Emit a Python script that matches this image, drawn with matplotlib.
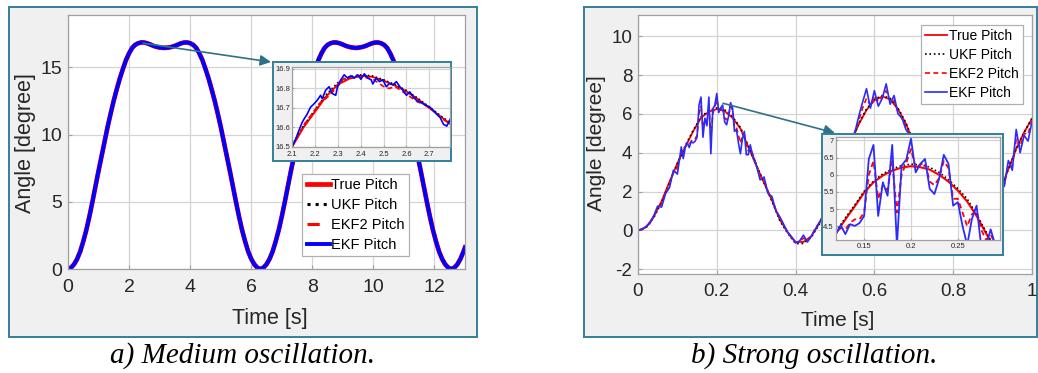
import numpy as np
import matplotlib
matplotlib.use('Agg')
import matplotlib.pyplot as plt

plt.rcParams['font.family'] = ['Liberation Sans', 'DejaVu Sans']
plt.rcParams['axes.unicode_minus'] = False

# ---------------- a) medium oscillation ----------------
t_a = [0.0, 0.1, 0.2, 0.3, 0.4, 0.5, 0.6, 0.7, 0.8, 0.9, 1.0, 1.1, 1.2, 1.3, 1.4, 1.5,
       1.6, 1.7, 1.8, 1.9, 2.0, 2.1, 2.2, 2.3, 2.4, 2.5, 2.6, 2.7, 2.8, 2.9, 3.0, 3.15,
       3.3, 3.4, 3.5, 3.6, 3.7, 3.8, 3.9, 4.0, 4.1, 4.2, 4.3, 4.4, 4.5, 4.6, 4.7, 4.8,
       4.9, 5.0, 5.1, 5.2, 5.3, 5.4, 5.5, 5.6, 5.7, 5.8, 5.9, 6.0, 6.1, 6.2, 6.3,
       6.4, 6.5, 6.6, 6.7, 6.8, 6.9, 7.0, 7.1, 7.2, 7.3, 7.4, 7.5, 7.6, 7.7, 7.8, 7.9,
       8.0, 8.1, 8.2, 8.3, 8.4, 8.5, 8.6, 8.7, 8.8, 8.9, 9.0, 9.1, 9.2, 9.3, 9.42,
       9.55, 9.65, 9.75, 9.85, 9.95, 10.05, 10.15, 10.25, 10.35, 10.45, 10.55, 10.65,
       10.75, 10.85, 10.95, 11.05, 11.15, 11.25, 11.35, 11.45, 11.55, 11.65, 11.75,
       11.85, 11.95, 12.05, 12.15, 12.25, 12.35, 12.45, 12.55, 12.65, 12.75, 12.85,
       12.95, 13.0]
pitch_a = [0.0, 0.1, 0.35, 0.75, 1.3, 2.05, 2.9, 3.9, 5.0, 6.15, 7.3, 8.4, 9.5, 10.6, 11.6, 12.55,
           13.4, 14.2, 14.9, 15.55, 16.05, 16.45, 16.68, 16.8, 16.86, 16.85, 16.79, 16.7, 16.6,
           16.53, 16.48, 16.45,
           16.48, 16.53, 16.6, 16.7, 16.79, 16.85, 16.86, 16.8, 16.68, 16.45, 16.05, 15.55, 14.9,
           14.2, 13.4, 12.55, 11.6, 10.6, 9.5, 8.4, 7.3, 6.15, 5.0, 3.9, 2.9, 2.05, 1.3, 0.75,
           0.35, 0.1, 0.0,
           0.1, 0.35, 0.75, 1.3, 2.05, 2.9, 3.9, 5.0, 6.15, 7.3, 8.4, 9.5, 10.6, 11.6, 12.55,
           13.4, 14.2, 14.9, 15.55, 16.05, 16.45, 16.68, 16.8, 16.86, 16.85, 16.79, 16.7, 16.6,
           16.53, 16.48, 16.45,
           16.48, 16.53, 16.6, 16.7, 16.79, 16.85, 16.86, 16.8, 16.68, 16.45, 16.05, 15.55,
           14.9, 14.2, 13.4, 12.55, 11.6, 10.6, 9.5, 8.4, 7.3, 6.15, 5.0,
           3.9, 2.9, 2.05, 1.3, 0.75, 0.35, 0.1, 0.0, 0.1, 0.35, 0.75,
           1.3, 1.6]

# zoomed window 2.1 .. 2.8 s
t_zoom_a = [2.10, 2.15, 2.20, 2.25, 2.30, 2.35, 2.40, 2.45, 2.50, 2.55, 2.60, 2.65, 2.70, 2.75, 2.80]
true_zoom_a = [16.50, 16.60, 16.68, 16.76, 16.82, 16.85, 16.865, 16.86, 16.84, 16.815, 16.785,
               16.745, 16.70, 16.655, 16.61]
ukf_zoom_a = [16.51, 16.61, 16.69, 16.77, 16.83, 16.86, 16.87, 16.865, 16.845, 16.82, 16.79,
              16.75, 16.705, 16.66, 16.615]
t_ekf2_zoom_a = [2.100, 2.125, 2.150, 2.175, 2.200, 2.225, 2.250, 2.275, 2.300, 2.325, 2.350,
                 2.375, 2.400, 2.425, 2.450, 2.475, 2.500, 2.525, 2.550, 2.575, 2.600, 2.625,
                 2.650, 2.675, 2.700, 2.725, 2.750, 2.775, 2.800]
ekf2_zoom_a = [16.50, 16.55, 16.61, 16.65, 16.69, 16.73, 16.75, 16.78, 16.81, 16.85, 16.855,
               16.86, 16.86, 16.855, 16.85, 16.83, 16.81, 16.80, 16.81, 16.79, 16.77, 16.75,
               16.73, 16.72, 16.70, 16.68, 16.65, 16.63, 16.62]
t_ekf_zoom_a = [2.100, 2.115, 2.129, 2.144, 2.151, 2.166, 2.181, 2.196, 2.210, 2.225, 2.232,
                2.247, 2.262, 2.276, 2.291, 2.299, 2.313, 2.328, 2.343, 2.357, 2.372, 2.387,
                2.401, 2.416, 2.431, 2.446, 2.453, 2.468, 2.482, 2.497, 2.512, 2.526, 2.541,
                2.556, 2.571, 2.585, 2.600, 2.615, 2.629, 2.644, 2.659, 2.674, 2.688, 2.703,
                2.718, 2.732, 2.747, 2.762, 2.776, 2.791]
ekf_zoom_a = [16.502, 16.537, 16.581, 16.625, 16.640, 16.668, 16.704, 16.721, 16.739, 16.765,
              16.747, 16.791, 16.809, 16.774, 16.765, 16.809, 16.844, 16.870, 16.853, 16.865,
              16.853, 16.870, 16.847, 16.875, 16.853, 16.844, 16.823, 16.853, 16.835, 16.844,
              16.809, 16.826, 16.818, 16.835, 16.809, 16.791, 16.765, 16.782, 16.756, 16.739,
              16.730, 16.721, 16.712, 16.704, 16.686, 16.668, 16.651, 16.616, 16.607, 16.642]

# ---------------- b) strong oscillation ----------------
t_b = np.round(np.arange(0, 1.001, 0.02), 3)
true_b = [0.0, 0.15, 0.7, 1.5, 2.5, 3.45, 4.3, 5.1, 5.8, 6.12, 6.25, 6.15, 5.8, 5.25, 4.3,
          3.35, 2.45, 1.55, 0.55, -0.1, -0.6, -0.6, -0.3, 0.35, 1.25, 2.3, 3.4, 4.5, 5.45,
          6.2, 6.7, 6.9, 6.75, 6.25, 5.5, 4.5, 3.45, 2.35, 1.3, 0.4, -0.25, -0.55, -0.55,
          -0.25, 0.35, 1.15, 2.1, 3.15, 4.2, 5.05, 5.75]
ukf_b = [0.0, 0.12, 0.65, 1.45, 2.45, 3.45, 4.35, 5.15, 5.85, 6.18, 6.31, 6.21, 5.86, 5.3,
         4.35, 3.4, 2.45, 1.5, 0.5, -0.15, -0.68, -0.68, -0.35, 0.3, 1.2, 2.3, 3.4, 4.55, 5.5,
         6.25, 6.75, 6.95, 6.8, 6.3, 5.55, 4.55, 3.45, 2.35, 1.25, 0.35, -0.3, -0.62, -0.62,
         -0.3, 0.3, 1.1, 2.1, 3.15, 4.2, 5.05, 5.78]

t_ekf_b = np.round(np.concatenate([np.arange(0, 0.111, 0.01),
                                   np.arange(0.115, 0.2901, 0.005),
                                   np.arange(0.30, 1.001, 0.01)]), 3)
ekf_b = [0.0, 0.05, 0.2, 0.35, 0.75, 1.25, 1.2, 1.9, 2.2, 3.1, 2.9, 4.3,
         3.7, 4.27, 4.53, 4.27, 4.56, 4.51, 4.59, 4.80, 6.46, 6.87, 4.80, 5.78, 5.39, 6.87,
         3.95, 6.27, 6.44, 7.05, 6.07, 6.32, 6.46, 5.59, 5.44, 5.88, 6.58, 6.32, 5.10, 5.20,
         4.51, 3.95, 4.71, 5.10, 3.9, 3.9, 4.41, 3.95,
         3.4, 2.6, 2.75, 1.9, 1.75, 1.0, 0.7, 0.3, -0.1, -0.35,
         -0.65, -0.55, -0.25, -0.6, -0.3, 0.05, 0.4, 0.65, 1.4, 1.6,
         2.5, 2.6, 3.6, 3.8, 4.7, 5.0, 5.85, 6.6, 7.3, 6.3,
         7.2, 6.4, 6.8, 7.55, 6.5, 6.95, 6.0, 5.8, 5.2, 4.9,
         4.3, 3.9, 3.4, 2.7, 2.4, 1.6, 1.4, 0.7, 0.5, 0.0,
         -0.2, -0.5, -0.45, -0.7, -0.4, -0.45, -0.1, 0.1, 0.45, 0.8,
         1.2, 1.6, 2.0, 2.3, 3.6, 3.1, 5.2, 4.0, 4.9, 4.6,
         5.6]
ekf2_b = [0.0, 0.04, 0.17, 0.38, 0.72, 1.15, 1.35, 1.95, 2.35, 3.0, 3.2, 4.05,
          4.0, 4.3, 4.45, 4.4, 4.6, 4.7, 4.7, 4.9, 6.0, 6.4, 5.3, 5.7, 5.55, 6.4, 4.9, 6.0,
          6.35, 6.75, 6.2, 6.3, 6.35, 5.8, 5.7, 5.9, 6.4, 6.2, 5.3, 5.3, 4.9, 4.5, 4.85,
          4.95, 4.4, 4.1, 4.25, 4.0,
          3.4, 2.8, 2.6, 2.0, 1.65, 1.05, 0.65, 0.25, -0.1, -0.4,
          -0.62, -0.58, -0.4, -0.55, -0.3, 0.1, 0.38, 0.7, 1.3, 1.7,
          2.4, 2.75, 3.5, 3.95, 4.6, 5.05, 5.65, 6.3, 6.8, 6.45,
          6.95, 6.65, 6.85, 7.2, 6.65, 6.7, 6.1, 5.75, 5.35, 4.95,
          4.4, 3.95, 3.45, 2.8, 2.4, 1.7, 1.35, 0.8, 0.45, 0.05,
          -0.22, -0.5, -0.5, -0.65, -0.5, -0.45, -0.2, 0.15, 0.4, 0.85,
          1.2, 1.65, 2.05, 2.4, 3.4, 3.3, 4.7, 4.3, 5.0, 4.95,
          5.65]

# finer true / UKF samples for the zoom window 0.12 .. 0.29 s
t_zoom_b = [0.12, 0.13, 0.14, 0.15, 0.16, 0.17, 0.18, 0.19, 0.20, 0.21, 0.22, 0.23, 0.24,
            0.25, 0.26, 0.27, 0.28, 0.29]
true_zoom_b = [4.3, 4.7, 5.08, 5.48, 5.78, 5.98, 6.12, 6.21, 6.25, 6.22, 6.15, 6.0, 5.8,
               5.54, 5.22, 4.8, 4.3, 3.8]
ukf_zoom_b = [4.35, 4.75, 5.12, 5.52, 5.82, 6.03, 6.17, 6.27, 6.31, 6.29, 6.22, 6.07, 5.86,
              5.6, 5.3, 4.85, 4.35, 3.85]

labels = ['True Pitch', 'UKF Pitch', 'EKF2 Pitch', 'EKF Pitch']

teal = '#33809a'
grid_c = '#d4d4d4'
spine_c = '#a0a0a0'
text_c = '#262626'


def style_axes(ax, tick_fs, pad_x, pad_y):
    ax.grid(True, color=grid_c, lw=0.9)
    ax.set_axisbelow(True)
    for s in ax.spines.values():
        s.set_color(spine_c)
        s.set_linewidth(0.9)
    ax.tick_params(axis='both', direction='in', length=3, color=spine_c,
                   labelcolor=text_c, labelsize=tick_fs)
    ax.tick_params(axis='x', pad=pad_x)
    ax.tick_params(axis='y', pad=pad_y)


def frame_box(fig, rect, z):
    fb = fig.add_axes(rect, zorder=z)
    fb.set_facecolor('#f0f0f0')
    fb.set_xticks([])
    fb.set_yticks([])
    for s in fb.spines.values():
        s.set_color(teal)
        s.set_linewidth(1.4)
    return fb


fig = plt.figure(figsize=(10.38, 3.73), dpi=100)

# panel frames
frame_box(fig, [0.0087, 0.0965, 0.4509, 0.8847], -5)
frame_box(fig, [0.5626, 0.0965, 0.4364, 0.8847], -5)

# ---- left panel ----
ax1 = fig.add_axes([0.0655, 0.2788, 0.3825, 0.681])
ax1.set_facecolor('white')
ax1.plot(t_a, pitch_a, color='red', lw=3.4, label=labels[0])
ax1.plot(t_a, pitch_a, color='black', lw=2.2, ls=':', label=labels[1])
ax1.plot(t_a, pitch_a, color='red', lw=2.2, ls=(0, (4, 6)), label=labels[2])
ax1.plot(t_a, pitch_a, color='#0000ff', lw=2.8, label=labels[3])
ax1.set_xlim(0, 13)
ax1.set_ylim(0, 18.9)
ax1.set_xticks([0, 2, 4, 6, 8, 10, 12])
ax1.set_yticks([0, 5, 10, 15])
style_axes(ax1, 14, 7, 4)
ax1.set_xlabel('Time [s]', fontsize=15.5, color=text_c)
ax1.set_ylabel('Angle [degree]', fontsize=15.5, color=text_c)
ax1.xaxis.set_label_coords(0.509, -0.193)
ax1.xaxis.label.set_va('center')
ax1.yaxis.set_label_coords(-0.108, 0.496)
ax1.yaxis.label.set_va('center')
leg1 = ax1.legend(loc='upper left', bbox_to_anchor=(0.59, 0.374), fontsize=10.5,
                  frameon=True, fancybox=False, framealpha=1, edgecolor='#b0b0b0',
                  handlelength=1.6, handletextpad=0.1, labelspacing=0.4,
                  borderpad=0.3, borderaxespad=0)
leg1.get_frame().set_linewidth(0.9)
ax1.annotate('', xy=(0.2611, 0.8338), xycoords='figure fraction',
             xytext=(2.46, 16.8), textcoords='data',
             arrowprops=dict(arrowstyle='-|>', color='#2e7288', lw=1.2,
                             mutation_scale=16, shrinkA=0, shrinkB=0))

frame_box(fig, [0.263, 0.5684, 0.1715, 0.2654], 2)
ins1 = fig.add_axes([0.2813, 0.6059, 0.1522, 0.2145], zorder=3)
ins1.set_facecolor('white')
ins1.plot(t_zoom_a, true_zoom_a, color='red', lw=1.4)
ins1.plot(t_zoom_a, ukf_zoom_a, color='black', lw=1.1, ls=':')
ins1.plot(t_ekf2_zoom_a, ekf2_zoom_a, color='red', lw=1.2, ls=(0, (3, 2)))
ins1.plot(t_ekf_zoom_a, ekf_zoom_a, color='#0000ff', lw=1.2)
ins1.set_xlim(2.1, 2.79)
ins1.set_ylim(16.5, 16.91)
ins1.set_xticks([2.1, 2.2, 2.3, 2.4, 2.5, 2.6, 2.7])
ins1.set_yticks([16.5, 16.6, 16.7, 16.8, 16.9])
style_axes(ins1, 5.5, 3, 1.5)
ins1.tick_params(length=1.5)

# ---- right panel ----
ax2 = fig.add_axes([0.6146, 0.2654, 0.3796, 0.6944])
ax2.set_facecolor('white')
ax2.plot(t_b, true_b, color='red', lw=1.3, label=labels[0])
ax2.plot(t_b, ukf_b, color='black', lw=1.2, ls=':', label=labels[1])
ax2.plot(t_ekf_b, ekf2_b, color='red', lw=1.2, ls=(0, (3, 2)), label=labels[2])
ax2.plot(t_ekf_b, ekf_b, color='#2b2bff', lw=1.2, label=labels[3])
ax2.set_xlim(0, 1)
ax2.set_ylim(-2.25, 11.1)
ax2.set_xticks([0, 0.2, 0.4, 0.6, 0.8, 1.0])
ax2.set_xticklabels(['0', '0.2', '0.4', '0.6', '0.8', '1'])
ax2.set_yticks([-2, 0, 2, 4, 6, 8, 10])
style_axes(ax2, 13.5, 6.5, 4)
ax2.set_xlabel('Time [s]', fontsize=15, color=text_c)
ax2.set_ylabel('Angle [degree]', fontsize=15, color=text_c)
ax2.xaxis.set_label_coords(0.508, -0.178)
ax2.xaxis.label.set_va('center')
ax2.yaxis.set_label_coords(-0.104, 0.506)
ax2.yaxis.label.set_va('center')
leg2 = ax2.legend(loc='upper left', bbox_to_anchor=(0.718, 0.961), fontsize=10,
                  frameon=True, fancybox=False, framealpha=1, edgecolor='#b0b0b0',
                  handlelength=1.6, handletextpad=0.1, labelspacing=0.35,
                  borderpad=0.3, borderaxespad=0)
leg2.get_frame().set_linewidth(0.9)
ax2.annotate('', xy=(0.8044, 0.6434), xycoords='figure fraction',
             xytext=(0.216, 6.55), textcoords='data',
             arrowprops=dict(arrowstyle='-|>', color='#2e7288', lw=1.2,
                             mutation_scale=16, shrinkA=0, shrinkB=0))

frame_box(fig, [0.7919, 0.3164, 0.1744, 0.3244], 2)
ins2 = fig.add_axes([0.8054, 0.3566, 0.158, 0.2761], zorder=3)
ins2.set_facecolor('white')
ins2.plot(t_zoom_b, true_zoom_b, color='red', lw=1.5)
ins2.plot(t_zoom_b, ukf_zoom_b, color='black', lw=1.1, ls=':')
ins2.plot(t_ekf_b, ekf2_b, color='red', lw=1.3, ls=(0, (3, 2)))
ins2.plot(t_ekf_b, ekf_b, color='#2b2bff', lw=1.3)
ins2.set_xlim(0.12, 0.295)
ins2.set_ylim(4.1, 7.1)
ins2.set_xticks([0.15, 0.2, 0.25])
ins2.set_xticklabels(['0.15', '0.2', '0.25'])
ins2.set_yticks([4.5, 5, 5.5, 6, 6.5, 7])
ins2.set_yticklabels(['4.5', '5', '5.5', '6', '6.5', '7'])
style_axes(ins2, 5.5, 2.5, 1.5)
ins2.tick_params(length=1.5)

# captions
fig.text(0.234, 0.048, 'a) Medium oscillation.', ha='center', va='center',
         fontsize=21, style='italic', family=['Liberation Serif', 'DejaVu Serif'])
fig.text(0.784, 0.048, 'b) Strong oscillation.', ha='center', va='center',
         fontsize=21, style='italic', family=['Liberation Serif', 'DejaVu Serif'])

fig.savefig('out.png', dpi=100)
